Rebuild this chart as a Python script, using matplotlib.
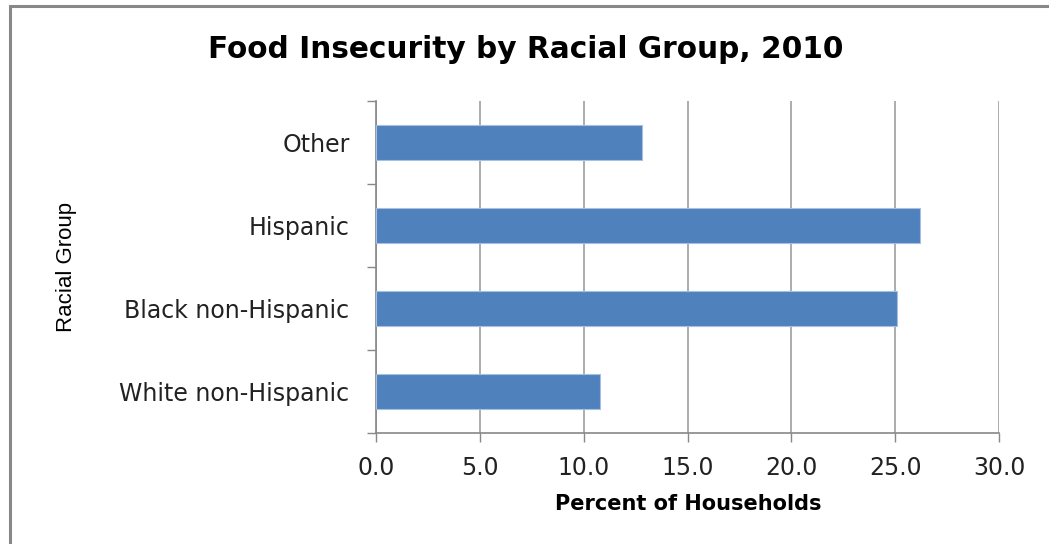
import matplotlib.pyplot as plt
from matplotlib.patches import Rectangle

# data
groups = ['White non-Hispanic', 'Black non-Hispanic', 'Hispanic', 'Other']
percent = [10.8, 25.1, 26.2, 12.8]
xticks = [0, 5, 10, 15, 20, 25, 30]

axis_grey = '#888888'
grid_grey = '#a6a6a6'

fig = plt.figure(figsize=(10.49, 5.44), dpi=100)
ax = fig.add_axes([376/1049, 1 - 433/544, 623/1049, 332/544])

# outer chart border (only left/top visible in the crop)
fig.patches.append(Rectangle((9.5/1049, -0.1), 1.2, 1 - 6.5/544 + 0.1,
                             transform=fig.transFigure, fill=False,
                             edgecolor='#888888', linewidth=2.2))

pos = list(range(len(groups)))
ax.barh(pos, percent, height=0.41, color='#4f81bd', edgecolor='#a7bfe0',
        linewidth=0.8, zorder=3)

ax.set_xlim(0, 30)
ax.set_ylim(-0.5, len(groups) - 0.5)
ax.set_xticks(xticks)
ax.set_xticklabels(['%.1f' % v for v in xticks])
ax.xaxis.grid(True, color=grid_grey, linewidth=1.3, zorder=0)

# category ticks sit between the bars, labels at bar centres
ax.set_yticks([p - 0.5 for p in pos] + [len(groups) - 0.5])
ax.set_yticklabels([])
ax.set_yticks(pos, minor=True)
ax.set_yticklabels(groups, minor=True)
ax.tick_params(axis='y', which='minor', length=0, pad=19, labelsize=17,
               labelcolor='#222222')
ax.tick_params(axis='y', which='major', length=6.5, width=1, color=axis_grey)
ax.tick_params(axis='x', length=6.5, width=1, color=axis_grey, pad=10,
               labelsize=17, labelcolor='#222222')
for t in ax.get_yticklabels(minor=True) + ax.get_xticklabels():
    t.set_fontfamily('DejaVu Sans')

for s in ['top', 'right']:
    ax.spines[s].set_visible(False)
for s in ['left', 'bottom']:
    ax.spines[s].set_color(axis_grey)
    ax.spines[s].set_linewidth(1.2)

ax.set_xlabel('Percent of Households', fontsize=15, fontweight='bold',
              family='DejaVu Sans')
ax.xaxis.set_label_coords((688 - 376) / 623, -(504 - 433) / 332)
ax.xaxis.label.set_va('center')
ax.set_ylabel('Racial Group', fontsize=16, family='Liberation Sans')
ax.yaxis.set_label_coords(-(376 - 66) / 623, 0.5)
ax.yaxis.label.set_va('center')
fig.text(526/1049, 1 - 50/544, 'Food Insecurity by Racial Group, 2010',
         ha='center', va='center', fontsize=21.3, fontweight='bold',
         family='DejaVu Sans')

fig.savefig('out.png', dpi=100)
